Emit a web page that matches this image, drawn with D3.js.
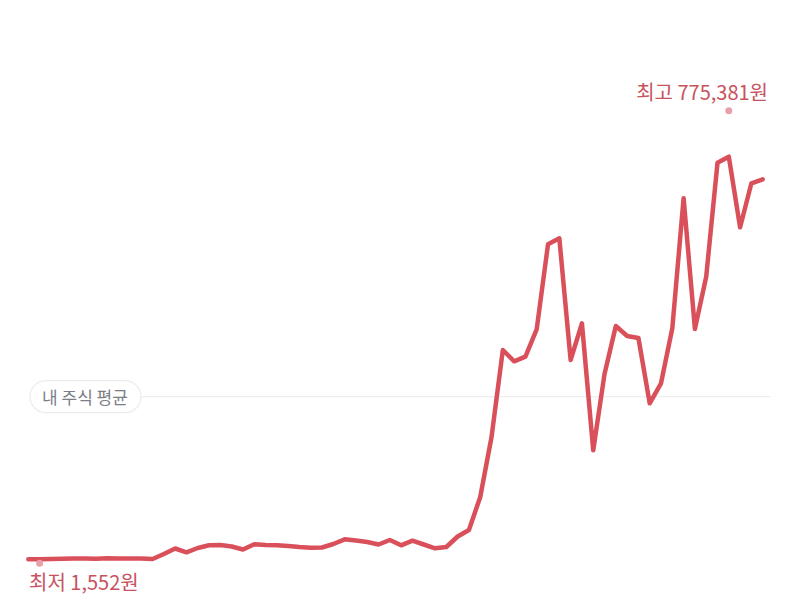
<!DOCTYPE html>
<html>
<head>
<meta charset="utf-8">
<script src="https://cdn.jsdelivr.net/npm/d3@7"></script>
<style>
  body { margin: 0; background: #fff; }
  svg { display: block; font-family: "Noto Sans CJK KR", "Noto Sans", sans-serif; }
</style>
</head>
<body>
<svg id="chart"></svg>
<script>
// price series (원), one value per period
var prices = [
    8400, 8400, 8900, 9250, 9590, 9760, 9420, 10100, 9760, 9590,
    9760, 8900, 17450, 26850, 20360, 27710, 32330, 32840, 30280, 25150,
    34040, 32840, 32330, 31130, 29420, 28220, 28570, 34550, 42580, 40530,
    37970, 33690, 41390, 32330, 40190, 33690, 27200, 29420, 47370, 58480,
    114900, 217500, 366200, 346900, 354800, 402100, 546960, 557200, 349100, 411880,
    194750, 325200, 407300, 390200, 386750, 275100, 309300, 403300, 625600, 402100,
    491550, 686450, 696700, 576000, 651240, 658100
];
var lowValue = 1552,
    lowIndex = 1,
    highValue = 775381,
    highIndex = 62,
    myAverage = 286400;
var labels = ["최고 775,381원", "최저 1,552원", "내 주식 평균"];

function draw() {
    var width = 800,
        height = 605,
        lineColor = "#d9505b",
        labelColor = "#c8525e";

    var svg = d3.select("#chart").attr("width", width).attr("height", height);

    var x = d3.scaleLinear().domain([0, prices.length - 1]).range([28.3, 762.7]);
    var y = d3.scaleLinear().domain([lowValue, highValue]).range([563.3, 110.7]);

    // average guide line
    var avgY = y(myAverage);
    svg.append("line")
        .attr("x1", 140).attr("x2", 771)
        .attr("y1", avgY).attr("y2", avgY)
        .attr("stroke", "#eeeeef")
        .attr("stroke-width", 1.2);

    var pill = svg.append("g").attr("transform", "translate(30," + avgY + ")");
    pill.append("rect")
        .attr("x", 0).attr("y", -16)
        .attr("width", 111).attr("height", 32)
        .attr("rx", 16)
        .attr("fill", "#fff")
        .attr("stroke", "#ececee")
        .attr("stroke-width", 1.2);
    pill.append("text")
        .attr("x", 55).attr("y", 0)
        .attr("text-anchor", "middle")
        .attr("dominant-baseline", "central")
        .attr("font-size", 17)
        .attr("fill", "#7b7e86")
        .text(labels[2]);

    // price line
    var line = d3.line()
        .x(function(d, i) { return x(i); })
        .y(function(d) { return y(d); });

    svg.append("path")
        .datum(prices)
        .attr("d", line)
        .attr("fill", "none")
        .attr("stroke", lineColor)
        .attr("stroke-width", 4.5)
        .attr("stroke-linejoin", "round")
        .attr("stroke-linecap", "round");

    // high / low markers
    svg.append("circle")
        .attr("cx", x(highIndex)).attr("cy", y(highValue))
        .attr("r", 3.5).attr("fill", "#e8a1aa");
    svg.append("circle")
        .attr("cx", x(lowIndex)).attr("cy", y(lowValue))
        .attr("r", 3.5).attr("fill", "#e8a1aa");

    svg.append("text")
        .attr("x", 768).attr("y", y(highValue) - 11)
        .attr("text-anchor", "end")
        .attr("font-size", 20)
        .attr("fill", labelColor)
        .text(labels[0]);
    svg.append("text")
        .attr("x", 29).attr("y", y(lowValue) + 27)
        .attr("text-anchor", "start")
        .attr("font-size", 20)
        .attr("fill", labelColor)
        .text(labels[1]);
}

draw();
</script>
</body>
</html>
